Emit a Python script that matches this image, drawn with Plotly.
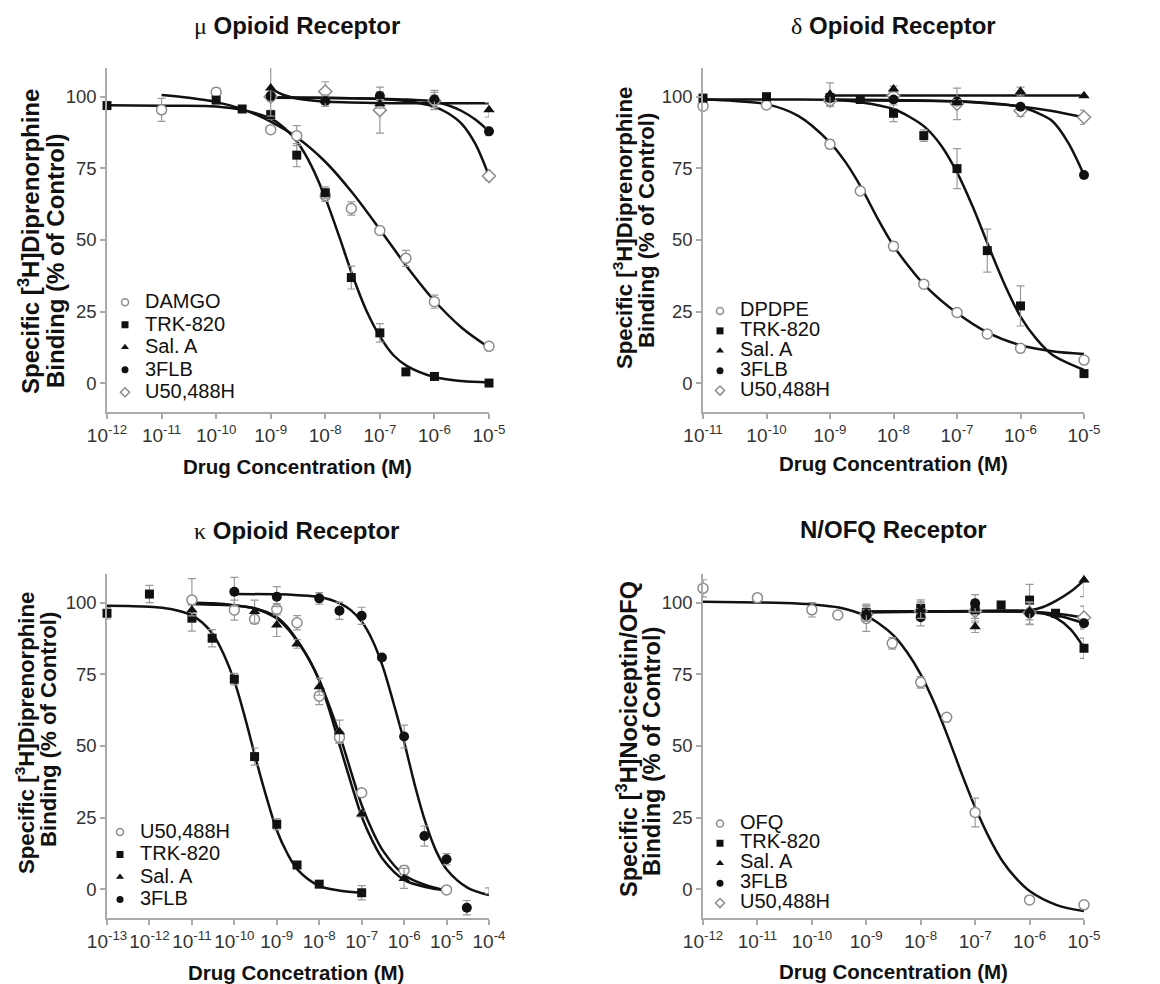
import numpy as np
import plotly.graph_objects as go

W, H = 1160, 984
OFF = 8  # page body margin that shifts the figure in the browser
FONT = "Liberation Sans, Arial, Helvetica, sans-serif"

# ---------------- data (concentration in M, % of control) ----------------
# mu opioid receptor
MU_DAMGO_C = [1e-11, 1e-10, 1e-9, 3e-9, 1e-8, 3e-8, 1e-7, 3e-7, 1e-6, 1e-5]
MU_DAMGO = [95.4, 101.5, 88.5, 86.4, 65.5, 61.0, 53.3, 43.6, 28.5, 12.9]
MU_DAMGO_E = [4, 1.5, 1.2, 3.5, 2, 2.3, 1, 2.8, 2.3, 1]
MU_TRK_C = [1e-12, 1e-10, 3e-10, 1e-9, 3e-9, 1e-8, 3e-8, 1e-7, 3e-7, 1e-6, 1e-5]
MU_TRK = [96.9, 98.8, 95.7, 93.7, 79.6, 66.5, 36.9, 17.6, 4.0, 2.4, 0.1]
MU_TRK_E = [0.5, 1, 0.5, 1.5, 4, 2, 4, 3.2, 1, 0.5, 0.5]
MU_OTH_C = [1e-9, 1e-8, 1e-7, 1e-6, 1e-5]
MU_SAL = [103.0, 98.6, 97.5, 99.2, 95.4]
MU_SAL_E = [9.8, 2, 1.5, 3, 2.5]
MU_FLB = [100.2, 98.5, 100.2, 99.0, 87.9]
MU_FLB_E = [1, 1, 1.5, 1.5, 1.5]
MU_U50 = [100.0, 101.8, 95.3, 98.5, 72.3]
MU_U50_E = [1.5, 3.4, 8, 3, 1.5]

# fitted curves (log10 concentration, % of control)
MU_DAMGO_FX = [-11, -10.5, -10, -9.5, -9, -8.5, -8, -7.5, -7, -6.5, -6, -5.5, -5]
MU_DAMGO_FY = [100.6, 99.6, 98.1, 95.5, 91.3, 85.5, 77.3, 66.4, 53.7, 40.6, 28.8, 19.4, 12.5]
MU_TRK_FX = [-12, -11, -10, -9.5, -9, -8.75, -8.5, -8.25, -8, -7.75, -7.5, -7.25, -7, -6.75, -6.5, -6, -5.5, -5]
MU_TRK_FY = [97, 96.8, 96.6, 95.3, 92.4, 89.1, 83.8, 75.7, 64.7, 51.5, 37.6, 25.5, 16.4, 9.8, 6.0, 2.2, 0.8, 0.3]
MU_SAL_FX = [-9, -8.75, -8.5, -8, -7, -6, -5]
MU_SAL_FY = [102.8, 100.5, 99.3, 98.3, 97.8, 97.7, 97.7]
MU_FLB_FX = [-9, -8, -7, -6.5, -6, -5.75, -5.5, -5.25, -5]
MU_FLB_FY = [99.6, 99.5, 99.3, 99.0, 98.3, 97.0, 95.0, 92.0, 87.9]
MU_U50_FX = [-9, -8, -7, -6.5, -6, -5.75, -5.5, -5.25, -5]
MU_U50_FY = [99.8, 99.6, 99.2, 98.4, 96.5, 94.2, 90.5, 83.5, 72.3]

# delta opioid receptor
DE_DPD_C = [1e-11, 1e-10, 1e-9, 3e-9, 1e-8, 3e-8, 1e-7, 3e-7, 1e-6, 1e-5]
DE_DPD = [96.7, 97.1, 83.4, 67.1, 47.8, 34.6, 24.7, 17.2, 12.2, 8.1]
DE_DPD_E = [1, 1, 1.5, 1, 1.5, 1, 1, 1, 1, 1]
DE_TRK_C = [1e-11, 1e-10, 1e-9, 3e-9, 1e-8, 3e-8, 1e-7, 3e-7, 1e-6, 1e-5]
DE_TRK = [99.5, 100.0, 99.7, 99.0, 94.2, 86.4, 74.9, 46.3, 27.0, 3.4]
DE_TRK_E = [0.5, 0.5, 1, 1, 2.9, 2, 7, 7.5, 7, 0.5]
DE_OTH_C = [1e-9, 1e-8, 1e-7, 1e-6, 1e-5]
DE_SAL = [100.8, 102.7, 98.0, 101.8, 100.3]
DE_SAL_E = [4, 1, 1, 1.5, 0.5]
DE_FLB = [99.5, 99.0, 98.3, 96.5, 72.7]
DE_FLB_E = [1, 1, 1, 1, 1]
DE_U50 = [98.6, 100.3, 97.5, 95.1, 92.8]
DE_U50_E = [2, 1, 5.5, 2, 2.5]

DE_DPD_FX = [-11, -10.5, -10, -9.5, -9, -8.75, -8.5, -8.25, -8, -7.75, -7.5, -7, -6.5, -6, -5.5, -5]
DE_DPD_FY = [99, 98.5, 97.4, 93.3, 84, 77, 68, 57.5, 48, 40.5, 34, 24.5, 17.5, 13.3, 11.2, 10.2]
DE_TRK_FX = [-11, -10, -9, -8.5, -8, -7.75, -7.5, -7.25, -7, -6.75, -6.5, -6.25, -6, -5.75, -5.5, -5]
DE_TRK_FY = [99, 99, 98.9, 98, 95.7, 93, 89.3, 83, 73.6, 61.5, 47.7, 34.5, 23.3, 15.5, 10, 4.7]
DE_SAL_FX = [-9, -8, -7, -6, -5]
DE_SAL_FY = [100.4, 100.4, 100.4, 100.4, 100.4]
DE_FLB_FX = [-9, -8, -7, -6.5, -6, -5.75, -5.5, -5.25, -5]
DE_FLB_FY = [98.8, 98.6, 98.4, 97.8, 96.5, 94.5, 91.5, 84, 72.7]
DE_U50_FX = [-9, -8, -7, -6.5, -6, -5.5, -5]
DE_U50_FY = [99.0, 98.8, 98.3, 97.6, 96.6, 95.0, 92.8]

# kappa opioid receptor
KA_U50_C = [1e-11, 1e-10, 3e-10, 1e-9, 3e-9, 1e-8, 3e-8, 1e-7, 1e-6, 1e-5]
KA_U50 = [100.9, 97.4, 94.2, 97.7, 93.0, 67.4, 53.0, 33.7, 6.7, -0.2]
KA_U50_E = [7.5, 3.5, 1.5, 2, 2.5, 3, 2, 1, 1.5, 1]
KA_TRK_C = [1e-13, 1e-12, 1e-11, 3e-11, 1e-10, 3e-10, 1e-9, 3e-9, 1e-8, 1e-7]
KA_TRK = [96.3, 103.0, 94.6, 87.6, 73.3, 46.3, 22.7, 8.5, 1.8, -1.2]
KA_TRK_E = [2, 3, 4.5, 3, 2, 3, 2, 1, 1, 2.5]
KA_SAL_C = [1e-11, 3e-10, 1e-9, 3e-9, 1e-8, 3e-8, 1e-7, 1e-6]
KA_SAL = [97.4, 96.9, 92.2, 85.6, 70.7, 55.0, 26.3, 3.8]
KA_SAL_E = [2, 4, 4, 1.5, 3, 4, 1, 3.5]
KA_FLB_C = [1e-10, 1e-9, 1e-8, 3e-8, 1e-7, 3e-7, 1e-6, 3e-6, 1e-5, 3e-5, 1e-4]
KA_FLB = [103.8, 102.1, 101.5, 97.2, 95.4, 80.9, 53.3, 18.6, 10.5, -6.4, -0.5]
KA_FLB_E = [5, 3.5, 2, 3, 3, 1, 4, 3.5, 2, 2.5, 1]

KA_TRK_FX = [-13, -12.5, -12, -11.5, -11, -10.75, -10.5, -10.25, -10, -9.75, -9.5, -9.25, -9, -8.75, -8.5, -8, -7.5, -7]
KA_TRK_FY = [98.9, 98.8, 98.6, 97.8, 95.6, 93, 88.9, 82, 72.7, 60, 45.8, 32.5, 20.6, 12.5, 6.7, 1.2, -0.5, -1.2]
KA_U50_FX = [-11, -10.5, -10, -9.5, -9, -8.75, -8.5, -8.25, -8, -7.75, -7.5, -7.25, -7, -6.75, -6.5, -6, -5.5, -5]
KA_U50_FY = [100, 99.8, 99.1, 97.9, 94.5, 91, 86.2, 80.5, 73, 63.5, 53, 41, 29.4, 20.5, 13.5, 5, 1.5, -0.4]
KA_SAL_FX = [-11, -10.5, -10, -9.5, -9, -8.75, -8.5, -8.25, -8, -7.75, -7.5, -7.25, -7, -6.75, -6.5, -6, -5.5, -5]
KA_SAL_FY = [99.5, 99.3, 99, 98, 95, 91.5, 86.5, 80.5, 72.9, 62, 49.3, 37, 25.4, 17, 10.5, 3.3, 0.8, -0.4]
KA_FLB_FX = [-10, -9, -8.5, -8, -7.5, -7.25, -7, -6.75, -6.5, -6.25, -6, -5.75, -5.5, -5.25, -5, -4.5, -4]
KA_FLB_FY = [103, 102.9, 102.6, 102, 99.7, 97.3, 93.4, 87, 77.6, 65, 51.5, 36.5, 23.5, 13.5, 7, 0.5, -2]

# N/OFQ receptor
NO_OFQ_C = [1e-12, 1e-11, 1e-10, 3e-10, 1e-9, 3e-9, 1e-8, 3e-8, 1e-7, 1e-6, 1e-5]
NO_OFQ = [105.0, 101.7, 97.5, 95.7, 94.5, 85.8, 72.2, 60.0, 26.8, -3.7, -5.4]
NO_OFQ_E = [3, 1.5, 2.5, 1, 4.5, 2, 2, 1, 5, 0.5, 0.5]
NO_TRK_C = [1e-9, 1e-8, 1e-7, 3e-7, 1e-6, 3e-6, 1e-5]
NO_TRK = [96.5, 98.0, 97.5, 99.2, 100.9, 96.3, 84.1]
NO_TRK_E = [2, 3, 3, 1, 5.5, 0.5, 3.5]
NO_OTH_C = [1e-9, 1e-8, 1e-7, 1e-6, 1e-5]
NO_SAL = [96.5, 97.5, 91.6, 97.0, 107.9]
NO_SAL_E = [3, 3, 2, 3, 5.8]
NO_FLB = [95.5, 94.9, 99.8, 96.3, 92.8]
NO_FLB_E = [2, 3, 3, 4, 1.5]
NO_U50 = [96.0, 97.0, 97.0, 96.5, 94.8]
NO_U50_E = [2, 3, 4, 4, 4]

NO_OFQ_FX = [-12, -11, -10.5, -10, -9.5, -9, -8.75, -8.5, -8.25, -8, -7.75, -7.5, -7.25, -7, -6.75, -6.5, -6.25, -6, -5.5, -5]
NO_OFQ_FY = [100.3, 100.1, 99.9, 99.4, 98.3, 95.3, 92.5, 88.6, 82.7, 75, 65, 53.2, 40.5, 28.6, 18.3, 9.9, 3.9, -0.6, -5.5, -7.6]
NO_TRK_FX = [-9, -8, -7, -6.5, -6, -5.75, -5.5, -5.25, -5]
NO_TRK_FY = [96.6, 96.8, 97, 97.2, 97, 96.3, 94.5, 90.8, 84.3]
NO_SAL_FX = [-9, -8, -7, -6.5, -6, -5.75, -5.5, -5.25, -5]
NO_SAL_FY = [96.8, 97, 97.1, 97.2, 97.4, 98.5, 100.8, 103.8, 107.8]
NO_FLB_FX = [-9, -8, -7, -6, -5.5, -5.25, -5]
NO_FLB_FY = [96.8, 96.9, 97, 96.7, 95.5, 94.3, 92.8]
NO_U50_FX = [-9, -8, -7, -6, -5.5, -5]
NO_U50_FY = [96.8, 96.9, 97, 96.8, 96.1, 94.8]

# axis ticks (exponents) and titles
MU_EXP = list(range(-12, -4))
DE_EXP = list(range(-11, -4))
KA_EXP = list(range(-13, -3))
NO_EXP = list(range(-12, -4))
Y_TICKS = [0, 25, 50, 75, 100]
GREEK = "<span style='font-family:Liberation Serif;font-weight:normal'>%s</span>"
TITLES = [GREEK % "\u03bc" + " Opioid Receptor",
          GREEK % "\u03b4" + " Opioid Receptor",
          GREEK % "\u03ba" + " Opioid Receptor",
          "N/OFQ Receptor"]
X_TITLES = ["Drug Concentration (M)", "Drug Concentration (M)",
            "Drug Concetration (M)", "Drug Concentration (M)"]
Y_TITLE_1 = ["Specific [<sup>3</sup>H]Diprenorphine"] * 3 + ["Specific [<sup>3</sup>H]Nociceptin/OFQ"]
Y_TITLE_2 = ["Binding (% of Control)"] * 4

# ---------------- styles ----------------
GRAY = "#8c8c8c"
BLACK = "#111111"
STY = {
    "ocircle": dict(symbol="circle", color="white", line=dict(color=GRAY, width=1.5)),
    "square": dict(symbol="square", color=BLACK, line=dict(color=BLACK, width=0)),
    "triangle": dict(symbol="triangle-up", color=BLACK, line=dict(color=BLACK, width=0)),
    "circle": dict(symbol="circle", color=BLACK, line=dict(color=BLACK, width=0)),
    "diamond": dict(symbol="diamond", color="white", line=dict(color=GRAY, width=1.5)),
}
SIZE = {"ocircle": 10, "square": 9, "triangle": 10, "circle": 10, "diamond": 10}


def PX(p):
    return (p - OFF) / W


def PY(p):
    return 1 - (p - OFF) / H


fig = go.Figure()


def add_series(ax, c, y, e, sty):
    xa, ya = ax
    fig.add_trace(go.Scatter(
        x=c, y=y, mode="markers", xaxis=xa, yaxis=ya, showlegend=False, cliponaxis=False,
        marker=dict(size=SIZE[sty], **STY[sty]),
        error_y=dict(type="data", array=e, color="#9a9a9a", thickness=1.2, width=4)))


def add_curve(ax, fx, fy):
    xa, ya = ax
    fig.add_trace(go.Scatter(
        x=[10.0 ** v for v in fx], y=fy, mode="lines", xaxis=xa, yaxis=ya, showlegend=False,
        cliponaxis=False, line=dict(color=BLACK, width=2.5, shape="spline", smoothing=0.9)))


def add_legend_entry(ax, name, sty, legend):
    xa, ya = ax
    fig.add_trace(go.Scatter(
        x=[None], y=[None], mode="markers", xaxis=xa, yaxis=ya, legend=legend,
        name="<span style='font-size:20px'>%s</span>" % name,
        marker=dict(size=7, **STY[sty])))


P1, P2, P3, P4 = ("x", "y"), ("x2", "y2"), ("x3", "y3"), ("x4", "y4")

for ax, curves in [
    (P1, [(MU_DAMGO_FX, MU_DAMGO_FY), (MU_TRK_FX, MU_TRK_FY), (MU_SAL_FX, MU_SAL_FY),
          (MU_FLB_FX, MU_FLB_FY), (MU_U50_FX, MU_U50_FY)]),
    (P2, [(DE_DPD_FX, DE_DPD_FY), (DE_TRK_FX, DE_TRK_FY), (DE_SAL_FX, DE_SAL_FY),
          (DE_FLB_FX, DE_FLB_FY), (DE_U50_FX, DE_U50_FY)]),
    (P3, [(KA_U50_FX, KA_U50_FY), (KA_TRK_FX, KA_TRK_FY), (KA_SAL_FX, KA_SAL_FY),
          (KA_FLB_FX, KA_FLB_FY)]),
    (P4, [(NO_OFQ_FX, NO_OFQ_FY), (NO_TRK_FX, NO_TRK_FY), (NO_SAL_FX, NO_SAL_FY),
          (NO_FLB_FX, NO_FLB_FY), (NO_U50_FX, NO_U50_FY)]),
]:
    for fx, fy in curves:
        add_curve(ax, fx, fy)

add_series(P1, MU_DAMGO_C, MU_DAMGO, MU_DAMGO_E, "ocircle")
add_series(P1, MU_OTH_C, MU_U50, MU_U50_E, "diamond")
add_series(P1, MU_TRK_C, MU_TRK, MU_TRK_E, "square")
add_series(P1, MU_OTH_C, MU_FLB, MU_FLB_E, "circle")
add_series(P1, MU_OTH_C, MU_SAL, MU_SAL_E, "triangle")

add_series(P2, DE_DPD_C, DE_DPD, DE_DPD_E, "ocircle")
add_series(P2, DE_OTH_C, DE_U50, DE_U50_E, "diamond")
add_series(P2, DE_TRK_C, DE_TRK, DE_TRK_E, "square")
add_series(P2, DE_OTH_C, DE_FLB, DE_FLB_E, "circle")
add_series(P2, DE_OTH_C, DE_SAL, DE_SAL_E, "triangle")

add_series(P3, KA_U50_C, KA_U50, KA_U50_E, "ocircle")
add_series(P3, KA_TRK_C, KA_TRK, KA_TRK_E, "square")
add_series(P3, KA_SAL_C, KA_SAL, KA_SAL_E, "triangle")
add_series(P3, KA_FLB_C, KA_FLB, KA_FLB_E, "circle")

add_series(P4, NO_OFQ_C, NO_OFQ, NO_OFQ_E, "ocircle")
add_series(P4, NO_OTH_C, NO_U50, NO_U50_E, "diamond")
add_series(P4, NO_TRK_C, NO_TRK, NO_TRK_E, "square")
add_series(P4, NO_OTH_C, NO_FLB, NO_FLB_E, "circle")
add_series(P4, NO_OTH_C, NO_SAL, NO_SAL_E, "triangle")

for name, sty in [("DAMGO", "ocircle"), ("TRK-820", "square"), ("Sal. A", "triangle"),
                  ("3FLB", "circle"), ("U50,488H", "diamond")]:
    add_legend_entry(P1, name, sty, "legend")
for name, sty in [("DPDPE", "ocircle"), ("TRK-820", "square"), ("Sal. A", "triangle"),
                  ("3FLB", "circle"), ("U50,488H", "diamond")]:
    add_legend_entry(P2, name, sty, "legend2")
for name, sty in [("U50,488H", "ocircle"), ("TRK-820", "square"), ("Sal. A", "triangle"),
                  ("3FLB", "circle")]:
    add_legend_entry(P3, name, sty, "legend3")
for name, sty in [("OFQ", "ocircle"), ("TRK-820", "square"), ("Sal. A", "triangle"),
                  ("3FLB", "circle"), ("U50,488H", "diamond")]:
    add_legend_entry(P4, name, sty, "legend4")

# ---------------- layout ----------------
AX_COL = "#aaaaaa"


def xaxis(exps, dom, anchor):
    return dict(type="log", range=[exps[0], exps[-1]], domain=dom, anchor=anchor,
                tickvals=[10.0 ** e for e in exps],
                ticktext=["10<sup>%d</sup>" % e for e in exps],
                showline=True, linecolor=AX_COL, linewidth=1.5, ticks="outside", ticklen=5,
                tickwidth=1.5, tickcolor=AX_COL, showgrid=False, zeroline=False,
                automargin=False, tickangle=0,
                tickfont=dict(family=FONT, size=19, color="#333333"))


def yaxis(dom, anchor):
    return dict(range=[-10, 110], domain=dom, anchor=anchor, tickvals=Y_TICKS,
                showline=True, linecolor=AX_COL, linewidth=1.5, ticks="outside", ticklen=5,
                tickwidth=1.5, tickcolor=AX_COL, showgrid=False, zeroline=False,
                automargin=False,
                tickfont=dict(family=FONT, size=18.5, color="#333333"))


XD_L = [PX(107), PX(489)]
XD_R = [PX(703), PX(1084)]
YD_T = [PY(412), PY(68)]
YD_B = [PY(918), PY(574)]


def legend(left, top, fs):
    return dict(x=PX(left), y=PY(top), xanchor="left", yanchor="top", bgcolor="rgba(0,0,0,0)",
                borderwidth=0, font=dict(family=FONT, size=fs, color="#111111"),
                itemwidth=30, tracegroupgap=0)


ann = []
TITLE_POS = [(297, 25), (893, 25), (296, 530), (893, 529)]
XT_POS = [(297.5, 466), (893, 464), (296, 972), (893, 971)]
YT1 = [(29, 242, 24), (623, 228, 22.2), (25, 733, 22.2), (627, 739, 23.5)]
YT2 = [(56, 261, 24), (647, 231, 22.2), (48, 730, 22.2), (652, 752, 23.5)]
for i in range(4):
    tx, ty = TITLE_POS[i]
    ann.append(dict(text="<b>%s</b>" % TITLES[i], x=PX(tx), y=PY(ty), xref="paper", yref="paper",
                    showarrow=False, xanchor="center", yanchor="middle",
                    font=dict(family=FONT, size=24, color="#111111")))
    xx, xy = XT_POS[i]
    ann.append(dict(text="<b>%s</b>" % X_TITLES[i], x=PX(xx), y=PY(xy), xref="paper", yref="paper",
                    showarrow=False, xanchor="center", yanchor="middle",
                    font=dict(family=FONT, size=20.5, color="#111111")))
    for (yx, yy, fs), txt in [(YT1[i], Y_TITLE_1[i]), (YT2[i], Y_TITLE_2[i])]:
        ann.append(dict(text="<b>%s</b>" % txt, x=PX(yx), y=PY(yy), xref="paper", yref="paper",
                        showarrow=False, xanchor="center", yanchor="middle", textangle=-90,
                        font=dict(family=FONT, size=fs, color="#111111")))

fig.update_layout(
    width=W, height=H, autosize=False,
    margin=dict(l=0, r=0, t=0, b=0, pad=0, autoexpand=False),
    paper_bgcolor="white", plot_bgcolor="white",
    font=dict(family=FONT, color="#111111"),
    xaxis=xaxis(MU_EXP, XD_L, "y"), yaxis=yaxis(YD_T, "x"),
    xaxis2=xaxis(DE_EXP, XD_R, "y2"), yaxis2=yaxis(YD_T, "x2"),
    xaxis3=xaxis(KA_EXP, XD_L, "y3"), yaxis3=yaxis(YD_B, "x3"),
    xaxis4=xaxis(NO_EXP, XD_R, "y4"), yaxis4=yaxis(YD_B, "x4"),
    legend=legend(105, 286, 15),
    legend2=legend(700, 296, 13),
    legend3=legend(100, 815.7, 15),
    legend4=legend(700, 808.5, 13),
    annotations=ann,
)

fig.write_html("out.html")
